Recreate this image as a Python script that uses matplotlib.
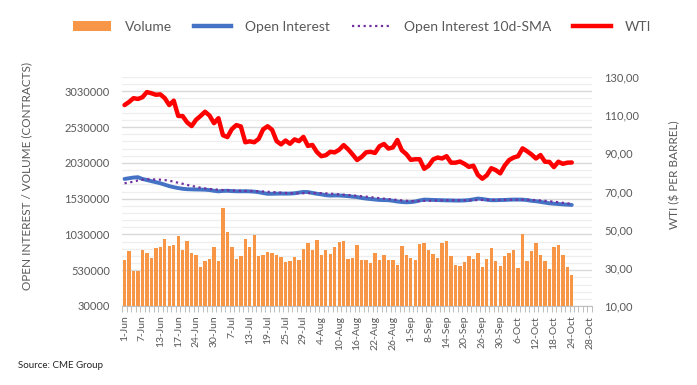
import matplotlib
matplotlib.use("Agg")
import matplotlib.pyplot as plt
import numpy as np
from matplotlib.patches import Patch
from matplotlib.lines import Line2D

plt.rcParams['font.family'] = ['Lato', 'DejaVu Sans']

# ---------------- data ----------------
dates = ["1-Jun","2-Jun","3-Jun","6-Jun","7-Jun","8-Jun","9-Jun","10-Jun","13-Jun","14-Jun",
         "15-Jun","16-Jun","17-Jun","21-Jun","22-Jun","23-Jun","24-Jun","27-Jun","28-Jun","29-Jun",
         "30-Jun","1-Jul","5-Jul","6-Jul","7-Jul","8-Jul","11-Jul","12-Jul","13-Jul","14-Jul",
         "15-Jul","18-Jul","19-Jul","20-Jul","21-Jul","22-Jul","25-Jul","26-Jul","27-Jul","28-Jul",
         "29-Jul","1-Aug","2-Aug","3-Aug","4-Aug","5-Aug","8-Aug","9-Aug","10-Aug","11-Aug",
         "12-Aug","15-Aug","16-Aug","17-Aug","18-Aug","19-Aug","22-Aug","23-Aug","24-Aug","25-Aug",
         "26-Aug","29-Aug","30-Aug","31-Aug","1-Sep","2-Sep","6-Sep","7-Sep","8-Sep","9-Sep",
         "12-Sep","13-Sep","14-Sep","15-Sep","16-Sep","19-Sep","20-Sep","21-Sep","22-Sep","23-Sep",
         "26-Sep","27-Sep","28-Sep","29-Sep","30-Sep","3-Oct","4-Oct","5-Oct","6-Oct","7-Oct",
         "10-Oct","11-Oct","12-Oct","13-Oct","14-Oct","17-Oct","18-Oct","19-Oct","20-Oct","21-Oct",
         "24-Oct","25-Oct","26-Oct","27-Oct","28-Oct"]

volume = [675, 801, 520, 520, 815, 773, 703, 843, 857, 970,
          871, 885, 1012, 815, 942, 773, 745, 577, 661, 689,
          857, 661, 1405, 1068, 857, 689, 731, 970, 857, 1026,
          731, 745, 787, 773, 745, 717, 647, 661, 717, 675,
          829, 913, 815, 956, 745, 815, 759, 857, 927, 942,
          689, 703, 885, 675, 675, 633, 773, 675, 745, 675,
          675, 605, 871, 745, 703, 675, 899, 913, 815, 759,
          703, 913, 942, 731, 605, 591, 647, 731, 689, 773,
          577, 689, 843, 661, 591, 731, 773, 815, 563, 1040,
          661, 801, 913, 745, 661, 549, 857, 885, 745, 577,
          465]  # thousands of contracts

open_interest = [1805, 1815, 1825, 1830, 1805, 1790, 1775, 1760, 1745, 1725,
                 1705, 1690, 1678, 1668, 1662, 1660, 1658, 1657, 1655, 1650,
                 1640, 1632, 1638, 1640, 1636, 1633, 1633, 1634, 1632, 1628,
                 1620, 1608, 1598, 1598, 1600, 1601, 1600, 1601, 1605, 1615,
                 1624, 1622, 1610, 1598, 1590, 1578, 1573, 1575, 1574, 1570,
                 1565, 1558, 1552, 1540, 1531, 1525, 1518, 1512, 1510, 1508,
                 1500, 1490, 1483, 1479, 1482, 1490, 1505, 1517, 1515, 1512,
                 1510, 1508, 1506, 1505, 1503, 1503, 1505, 1510, 1520, 1531,
                 1525, 1515, 1508, 1508, 1510, 1512, 1515, 1517, 1517, 1516,
                 1510, 1500, 1494, 1485, 1475, 1465, 1460, 1455, 1450, 1446,
                 1442]

oi_sma = [1745, 1755, 1768, 1785, 1795, 1800, 1800, 1798, 1795, 1790,
          1780, 1768, 1752, 1738, 1722, 1708, 1695, 1683, 1673, 1665,
          1660, 1655, 1650, 1647, 1644, 1641, 1639, 1637, 1636, 1635,
          1633, 1630, 1626, 1622, 1618, 1614, 1610, 1607, 1605, 1605,
          1606, 1608, 1609, 1609, 1607, 1604, 1600, 1595, 1590, 1585,
          1580, 1575, 1570, 1564, 1558, 1551, 1544, 1537, 1530, 1524,
          1518, 1512, 1506, 1500, 1497, 1496, 1497, 1499, 1501, 1503,
          1505, 1507, 1508, 1508, 1508, 1507, 1507, 1507, 1508, 1510,
          1512, 1513, 1513, 1513, 1513, 1513, 1514, 1515, 1515, 1515,
          1514, 1512, 1509, 1505, 1500, 1494, 1487, 1480, 1472, 1464,
          1457]

wti = [115.3, 116.9, 118.9, 118.5, 119.4, 122.1, 121.5, 120.7, 120.9, 118.9,
       115.3, 117.6, 109.6, 109.5, 106.2, 104.3, 107.6, 109.6, 111.8, 109.8,
       105.8, 108.4, 99.5, 98.5, 102.7, 104.8, 104.1, 95.8, 96.3, 95.8,
       97.6, 102.6, 104.2, 102.3, 96.4, 94.7, 96.7, 95.0, 97.3, 96.4,
       98.6, 93.9, 94.4, 90.7, 88.5, 89.0, 90.8, 90.5, 91.9, 94.3,
       92.1, 89.4, 86.5, 88.1, 90.5, 90.8, 90.2, 93.7, 94.9, 92.5,
       93.1, 97.0, 91.6, 89.6, 86.6, 86.9, 86.9, 81.9, 83.5, 86.8,
       87.8, 87.3, 88.5, 85.1, 85.1, 85.7, 84.5, 82.9, 83.5, 78.7,
       76.7, 78.5, 82.2, 81.2, 79.5, 83.6, 86.5, 87.8, 88.5, 92.6,
       91.1, 89.4, 87.3, 89.1, 85.6, 85.5, 82.8, 85.6, 84.5, 85.1,
       85.2]

left_ticks = [30000, 530000, 1030000, 1530000, 2030000, 2530000, 3030000]
right_ticks = [10, 30, 50, 70, 90, 110, 130]

# ---------------- figure ----------------
W, H = 697, 385
fig = plt.figure(figsize=(W / 100, H / 100), dpi=100)
L, R, T, B = 122.3, 591.9, 77, 306
ax = fig.add_axes([L / W, 1 - B / H, (R - L) / W, (B - T) / H])
ax2 = ax.twinx()

grey_txt = "#595959"
n_data = len(volume)
x = np.arange(n_data)

ax.bar(x, np.array(volume) * 1000, width=0.76, color="#f79646", zorder=2)
ax.plot(x, np.array(open_interest) * 1000, color="#4472c4", lw=2.8,
        solid_capstyle="round", zorder=3)
ax.plot(x, np.array(oi_sma) * 1000, color="#7030a0", lw=1.6,
        linestyle=(0, (1, 1.6)), zorder=4)
ax2.plot(x, wti, color="#ff0000", lw=3.2, solid_capstyle="round",
         solid_joinstyle="round", zorder=5)

ax.set_xlim(-0.5, len(dates) - 0.5)
ax.set_ylim(30000, 3230000)
ax2.set_ylim(10, 130)

ax.set_yticks(left_ticks)
ax.set_yticklabels([str(v) for v in left_ticks])
ax.set_yticks(np.arange(130000, 3230001, 100000), minor=True)
ax2.set_yticks(right_ticks)
ax2.set_yticklabels([f"{v},00" for v in right_ticks])

# grid lines
for v in np.arange(30000, 3230001, 100000):
    major = (v - 30000) % 500000 == 0
    ax.axhline(v, color="#d9d9d9" if major else "#eeeeee",
               lw=1.0 if major else 0.9, zorder=0)

lab_idx = list(range(0, len(dates), 4))
ax.set_xticks(lab_idx)
ax.set_xticklabels([dates[i] for i in lab_idx], rotation=90, ha="center", va="top")
ax.set_xticks(np.arange(-0.5, len(dates), 1), minor=True)
ax.tick_params(axis="x", which="major", length=0, pad=7, labelsize=7.5, colors=grey_txt)
ax.tick_params(axis="x", which="minor", length=4, width=0.7, color="#bfbfbf")
ax.tick_params(axis="y", which="both", length=0, pad=9, labelsize=8, colors=grey_txt)
ax2.tick_params(axis="y", which="both", length=0, pad=9, labelsize=8, colors=grey_txt)

for a in (ax, ax2):
    for s in ("top", "left", "right"):
        a.spines[s].set_visible(False)
ax.spines["bottom"].set_color("#bfbfbf")
ax.spines["bottom"].set_linewidth(0.8)
ax2.spines["bottom"].set_visible(False)

fig.text(27 / W, 1 - 176 / H, "OPEN INTEREST / VOLUME (CONTRACTS)", rotation=90,
         ha="center", va="center", fontsize=8.5, color=grey_txt)
fig.text(675 / W, 1 - 175 / H, "WTI ($ PER BARREL)", rotation=90,
         ha="center", va="center", fontsize=8.5, color=grey_txt)
fig.text(18 / W, 1 - 365 / H, "Source: CME Group", ha="left", va="center",
         fontsize=7, color="#222222")

handles = [Patch(facecolor="#f79646", edgecolor="none"),
           Line2D([], [], color="#4472c4", lw=3.2),
           Line2D([], [], color="#7030a0", lw=1.6, linestyle=(0, (1, 1.6))),
           Line2D([], [], color="#ff0000", lw=3.2)]
labels = ["Volume", "Open Interest", "Open Interest 10d-SMA", "WTI"]
leg = fig.legend(handles, labels, loc="center", bbox_to_anchor=(362 / W, 1 - 27 / H),
                 ncol=4, frameon=False, fontsize=10, handlelength=2.7,
                 handleheight=0.75, handletextpad=1.0, columnspacing=1.6,
                 borderpad=0, borderaxespad=0)
for t in leg.get_texts():
    t.set_color(grey_txt)

fig.savefig("out.png", dpi=100)
